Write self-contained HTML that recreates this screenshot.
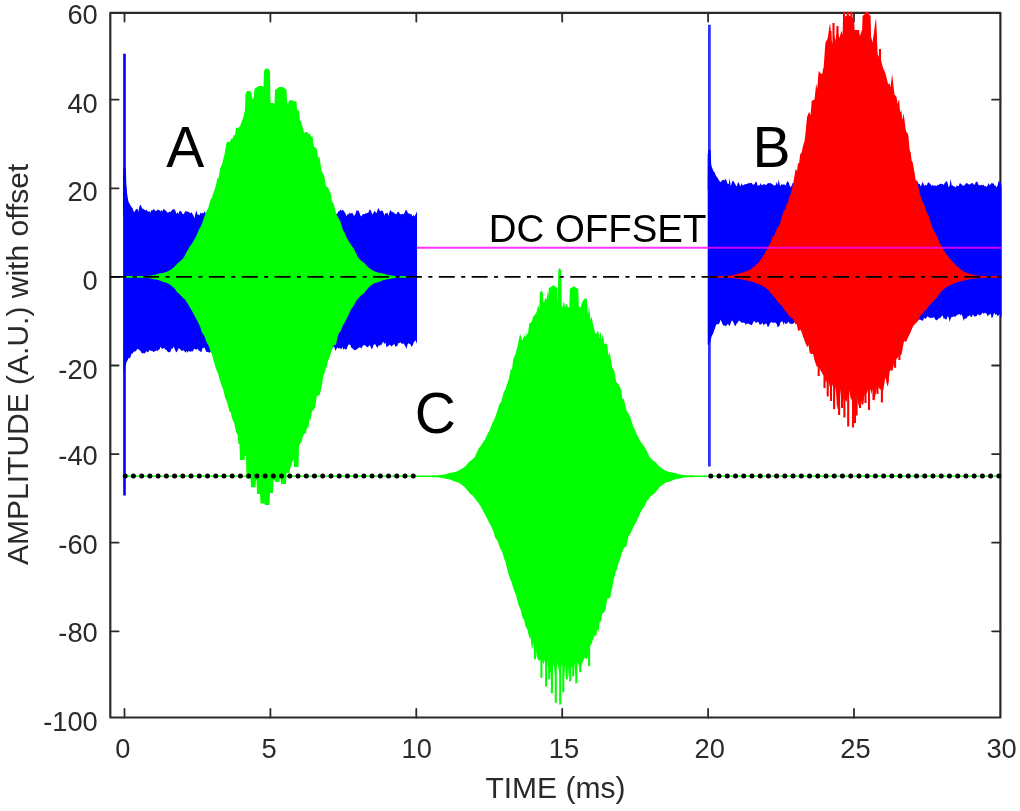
<!DOCTYPE html>
<html lang="en">
<head>
<meta charset="utf-8">
<title>Amplitude vs time</title>
<style>
html,body{margin:0;padding:0;background:#fff;}
body{width:1020px;height:811px;overflow:hidden;font-family:"Liberation Sans",sans-serif;}
svg{display:block;}
</style>
</head>
<body>
<svg width="1020" height="811" viewBox="0 0 1020 811">
<defs><clipPath id="ax"><rect x="109.2" y="11.8" width="892.6" height="706.8"/></clipPath><filter id="soft" x="0" y="0" width="100%" height="100%"><feGaussianBlur stdDeviation="0.45"/></filter></defs>
<rect width="1020" height="811" fill="#fff"/>
<g filter="url(#soft)">
<rect width="1020" height="811" fill="#fff"/>
<g stroke="#2b2b2b" stroke-width="2.2" fill="none" stroke-linejoin="round" stroke-linecap="round">
<rect x="110.3" y="12.9" width="890.1" height="704.6"/>
<path stroke-width="1.8" d="M124.5 717.5V708.9M124.5 12.9V21.5M270.4 717.5V708.9M270.4 12.9V21.5M416.3 717.5V708.9M416.3 12.9V21.5M562.2 717.5V708.9M562.2 12.9V21.5M708.1 717.5V708.9M708.1 12.9V21.5M854 717.5V708.9M854 12.9V21.5M110.3 99.7H118.6M1000.4 99.7H992.1M110.3 188.3H118.6M1000.4 188.3H992.1M110.3 276.9H118.6M1000.4 276.9H992.1M110.3 365.5H118.6M1000.4 365.5H992.1M110.3 454.1H118.6M1000.4 454.1H992.1M110.3 542.7H118.6M1000.4 542.7H992.1M110.3 631.3H118.6M1000.4 631.3H992.1"/>
</g>
<g clip-path="url(#ax)">
<polygon fill="#0000ff" points="123.5,171 124.5,173.8 125.5,181.8 126.5,188.1 127.5,196.6 128.5,201.8 129.5,203.4 130.5,205.6 131.5,206.9 132.5,208.1 133.5,211.2 134.5,212.1 135.5,209.9 136.5,209 137.5,208.8 138.5,211.8 139.5,206 140.5,204.6 141.5,206.9 142.5,208.7 143.5,209.1 144.5,209.7 145.5,210.4 146.5,209.4 147.5,211.3 148.5,211.6 149.5,211.3 150.5,212.7 151.5,210 152.5,210.4 153.5,208.8 154.5,210.1 155.5,211 156.5,211 157.5,209.6 158.5,210 159.5,210.3 160.5,211.5 161.5,210 162.5,211.6 163.5,209 164.5,209.4 165.5,210.6 166.5,211.3 167.5,212.7 168.5,212.4 169.5,211.4 170.5,211.9 171.5,210.9 172.5,209.5 173.5,209.4 174.5,208.9 175.5,211.2 176.5,213.9 177.5,212 178.5,213.9 179.5,211 180.5,211 181.5,211.7 182.5,214 183.5,214.2 184.5,212.7 185.5,210.9 186.5,211.5 187.5,211.6 188.5,212.1 189.5,212.6 190.5,213.4 191.5,212.1 192.5,214.1 193.5,215.5 194.5,218.2 195.5,213.1 196.5,210.5 197.5,214.8 198.5,214.6 199.5,215.4 200.5,212.6 201.5,213.5 202.5,212.8 203.5,213.5 204.5,211.2 205.5,213.1 206.5,213.8 207.5,215.4 208.5,214.2 209.5,213.2 210.5,213.9 211.5,213.6 212.5,213 213.5,212.1 214.5,209.3 215.5,211.1 216.5,212.6 217.5,212.9 218.5,212.6 219.5,209.9 220.5,211.5 221.5,212.3 222.5,213.1 223.5,214.1 224.5,212.6 225.5,213.5 226.5,211.4 227.5,211.9 228.5,211.7 229.5,213.8 230.5,212.1 231.5,214.1 232.5,214.2 233.5,213.2 234.5,213.6 235.5,214.9 236.5,216 237.5,213.5 238.5,210.9 239.5,211.5 240.5,212.5 241.5,213.7 242.5,215.1 243.5,214.2 244.5,212.5 245.5,212.9 246.5,214.3 247.5,213.3 248.5,211.6 249.5,213 250.5,216.5 251.5,214.6 252.5,214.5 253.5,212 254.5,213.3 255.5,211.1 256.5,210.6 257.5,215 258.5,215.3 259.5,214.7 260.5,214.2 261.5,212.9 262.5,213.9 263.5,213.9 264.5,212.3 265.5,212.6 266.5,209.3 267.5,213.2 268.5,214.1 269.5,213.5 270.5,214.5 271.5,214.3 272.5,214.3 273.5,213.3 274.5,212 275.5,211.8 276.5,213.7 277.5,214.8 278.5,214.5 279.5,214.4 280.5,215.9 281.5,211.9 282.5,209.1 283.5,211.1 284.5,212.7 285.5,212.8 286.5,211.8 287.5,210.7 288.5,211.1 289.5,211.5 290.5,213 291.5,213.2 292.5,214.6 293.5,214.6 294.5,215.5 295.5,215.7 296.5,214.5 297.5,213.2 298.5,211.9 299.5,213 300.5,215.5 301.5,212.4 302.5,213.3 303.5,214.3 304.5,212.9 305.5,212.8 306.5,213.2 307.5,211.5 308.5,213 309.5,216.1 310.5,214.7 311.5,209.1 312.5,214.6 313.5,214.9 314.5,213.9 315.5,210.7 316.5,212 317.5,211.3 318.5,210.7 319.5,212.3 320.5,212.9 321.5,213.2 322.5,212.9 323.5,213.7 324.5,212.2 325.5,212.7 326.5,211.5 327.5,212.7 328.5,212.7 329.5,212.7 330.5,214.7 331.5,213.3 332.5,212.8 333.5,212.2 334.5,213.7 335.5,212.7 336.5,214.3 337.5,213.2 338.5,211.2 339.5,211 340.5,209.5 341.5,210.8 342.5,210.1 343.5,210.4 344.5,212.1 345.5,213.6 346.5,216.2 347.5,214.3 348.5,214.3 349.5,212.6 350.5,213.7 351.5,213.1 352.5,213.1 353.5,215.2 354.5,215.8 355.5,213.8 356.5,210.3 357.5,210.8 358.5,210.6 359.5,213 360.5,215.4 361.5,216.6 362.5,214.6 363.5,214 364.5,214.3 365.5,213.2 366.5,213.4 367.5,212.8 368.5,212.6 369.5,209.6 370.5,209.9 371.5,212.3 372.5,214.4 373.5,212.7 374.5,210.8 375.5,212.1 376.5,213.2 377.5,210.2 378.5,207.8 379.5,210.4 380.5,211.2 381.5,210.4 382.5,210.8 383.5,212.7 384.5,215.5 385.5,212.9 386.5,213.4 387.5,212.5 388.5,215.9 389.5,211.7 390.5,210 391.5,211.7 392.5,211.8 393.5,212.4 394.5,213.3 395.5,214.3 396.5,213.9 397.5,212.2 398.5,211.5 399.5,213.5 400.5,214.3 401.5,214.4 402.5,213.7 403.5,214.2 404.5,213.1 405.5,210.3 406.5,210.1 407.5,212.2 408.5,213.6 409.5,213.5 410.5,214.5 411.5,214.1 412.5,216.6 413.5,214.9 414.5,216.5 415.5,214.6 417,211.6 417,343.8 415.5,340.3 414.5,341.6 413.5,342.9 412.5,346 411.5,346.7 410.5,344.4 409.5,343.8 408.5,343.2 407.5,344.4 406.5,348.9 405.5,346.6 404.5,345 403.5,343.3 402.5,343.9 401.5,343.6 400.5,342.2 399.5,343.2 398.5,342.7 397.5,345.6 396.5,345.9 395.5,346.9 394.5,344.3 393.5,344.4 392.5,345.4 391.5,346.5 390.5,345.5 389.5,344.4 388.5,346.1 387.5,346.3 386.5,347.6 385.5,342.5 384.5,344.1 383.5,342.1 382.5,342.5 381.5,345.1 380.5,344.7 379.5,345.7 378.5,345.4 377.5,347.9 376.5,346.7 375.5,344.4 374.5,344.2 373.5,345 372.5,348.2 371.5,349.3 370.5,346.3 369.5,345.1 368.5,346.5 367.5,347.2 366.5,346.7 365.5,345.8 364.5,345 363.5,345.2 362.5,346.3 361.5,348.6 360.5,347.5 359.5,347.5 358.5,347.8 357.5,348.8 356.5,349.4 355.5,350 354.5,350.3 353.5,349.3 352.5,348.4 351.5,348.1 350.5,345.2 349.5,344.6 348.5,344.5 347.5,346.8 346.5,349.4 345.5,349.5 344.5,348.5 343.5,349.8 342.5,347 341.5,349.3 340.5,348.6 339.5,348.2 338.5,348.2 337.5,347.6 336.5,348.7 335.5,350.9 334.5,347.5 333.5,346.5 332.5,348.4 331.5,348.3 330.5,346.3 329.5,347.3 328.5,347.3 327.5,349.3 326.5,350.8 325.5,349.9 324.5,350.7 323.5,349.5 322.5,347.6 321.5,346.5 320.5,347.8 319.5,348.7 318.5,350 317.5,350.2 316.5,350.5 315.5,350.6 314.5,351.5 313.5,350.6 312.5,350.9 311.5,351.5 310.5,349.6 309.5,351 308.5,349.1 307.5,347.6 306.5,346.8 305.5,347.7 304.5,348 303.5,350 302.5,348.3 301.5,350.2 300.5,349.9 299.5,351.3 298.5,351.7 297.5,350.9 296.5,348.7 295.5,348.7 294.5,350.8 293.5,352.4 292.5,352.1 291.5,350.5 290.5,348.7 289.5,346.7 288.5,349.6 287.5,350 286.5,349.5 285.5,350.1 284.5,350.4 283.5,350.2 282.5,349.7 281.5,348.6 280.5,348.3 279.5,349.8 278.5,348.1 277.5,346.3 276.5,345.6 275.5,346.4 274.5,349.8 273.5,349.9 272.5,350.4 271.5,351.1 270.5,349 269.5,349.3 268.5,347.4 267.5,351.2 266.5,350.6 265.5,351.1 264.5,350.4 263.5,351.6 262.5,351.5 261.5,349.9 260.5,349.2 259.5,350.8 258.5,351.4 257.5,352 256.5,349.9 255.5,350.6 254.5,349.2 253.5,348 252.5,350.4 251.5,351 250.5,349.2 249.5,349.5 248.5,350.4 247.5,350 246.5,352.3 245.5,351.4 244.5,349.6 243.5,349.4 242.5,350.4 241.5,351.4 240.5,350.7 239.5,349.9 238.5,350.6 237.5,352.4 236.5,351.3 235.5,350.8 234.5,351.1 233.5,349 232.5,350.3 231.5,352.4 230.5,349.4 229.5,351 228.5,350.4 227.5,349.1 226.5,350.2 225.5,350.4 224.5,350.2 223.5,349.9 222.5,346.8 221.5,346.7 220.5,348.1 219.5,349.4 218.5,350.2 217.5,350.1 216.5,348.3 215.5,347.9 214.5,348.9 213.5,346.5 212.5,349.1 211.5,351.8 210.5,351.8 209.5,352.7 208.5,352.2 207.5,351.9 206.5,352 205.5,350 204.5,347.3 203.5,348.3 202.5,347.9 201.5,352 200.5,351.7 199.5,350.7 198.5,350.5 197.5,348.8 196.5,349.7 195.5,349.3 194.5,348.7 193.5,349.7 192.5,351.8 191.5,350.9 190.5,351.9 189.5,351.3 188.5,351.1 187.5,352.8 186.5,350.7 185.5,352.8 184.5,351.3 183.5,350.2 182.5,350.7 181.5,350.7 180.5,349.4 179.5,348.7 178.5,348.2 177.5,350.7 176.5,352.4 175.5,351.1 174.5,348.5 173.5,346.5 172.5,349.1 171.5,348.4 170.5,351.8 169.5,352.3 168.5,352.3 167.5,351.6 166.5,350.1 165.5,349.8 164.5,348.3 163.5,348 162.5,349.3 161.5,348 160.5,346.8 159.5,349.4 158.5,349.8 157.5,351.2 156.5,350.3 155.5,351 154.5,351.4 153.5,352.2 152.5,350.9 151.5,351.1 150.5,350.4 149.5,349.9 148.5,351.8 147.5,352.6 146.5,351.1 145.5,352.4 144.5,353.4 143.5,353 142.5,353.5 141.5,352.7 140.5,351.1 139.5,349.9 138.5,349.2 137.5,348.7 136.5,350.2 135.5,351.4 134.5,351.3 133.5,352.2 132.5,353.5 131.5,353.8 130.5,357.1 129.5,358.4 128.5,358.1 127.5,360.4 126.5,362.3 125.5,366.4 124.5,374.2 123.5,372.8"/>
<polygon fill="#0000ff" points="707.7,153.3 708.7,156.2 709.7,160.6 710.7,162.8 711.7,167.1 712.7,169.2 713.7,171.6 714.7,172.5 715.7,175.3 716.7,176.7 717.7,178.1 718.7,179.7 719.7,181.6 720.7,182.3 721.7,180.4 722.7,180.2 723.7,179.8 724.7,180.3 725.7,178.8 726.7,181 727.7,183.9 728.7,183.9 729.7,178.2 730.7,186.4 731.7,182.9 732.7,180.7 733.7,181.2 734.7,183.2 735.7,185 736.7,186.5 737.7,183.6 738.7,181.9 739.7,185 740.7,186.2 741.7,182.9 742.7,185.4 743.7,184.9 744.7,184.3 745.7,184.2 746.7,183.9 747.7,183.4 748.7,183.3 749.7,182.7 750.7,183.4 751.7,182.6 752.7,184.6 753.7,184.8 754.7,183.7 755.7,181.4 756.7,182.3 757.7,185.9 758.7,185.2 759.7,185.2 760.7,183.1 761.7,185.4 762.7,184.7 763.7,183.9 764.7,184.5 765.7,185 766.7,184.4 767.7,183.3 768.7,182.9 769.7,183.4 770.7,182.8 771.7,184 772.7,184.2 773.7,185.4 774.7,185.4 775.7,184.9 776.7,182.1 777.7,185 778.7,179.5 779.7,184.7 780.7,186.1 781.7,183.7 782.7,185 783.7,184.3 784.7,184.8 785.7,185.5 786.7,182.6 787.7,181.2 788.7,182.6 789.7,185.6 790.7,187.3 791.7,185.6 792.7,182.7 793.7,184 794.7,185.8 795.7,185.1 796.7,183.7 797.7,182.6 798.7,183.3 799.7,184.8 800.7,187.2 801.7,186.6 802.7,184.7 803.7,183.6 804.7,184.1 805.7,183.8 806.7,183.4 807.7,183.8 808.7,186 809.7,184.4 810.7,182.8 811.7,183.8 812.7,185.4 813.7,184.2 814.7,183.6 815.7,183.7 816.7,184.5 817.7,183.5 818.7,181.4 819.7,181.6 820.7,183 821.7,180.8 822.7,178.7 823.7,180.6 824.7,184.1 825.7,181.6 826.7,182.3 827.7,181.8 828.7,183.4 829.7,182.2 830.7,184.2 831.7,184.5 832.7,184.2 833.7,182.6 834.7,181.7 835.7,180.6 836.7,185.4 837.7,183 838.7,183.5 839.7,183.6 840.7,183.8 841.7,185.2 842.7,182.4 843.7,183.9 844.7,184.7 845.7,184.2 846.7,184.9 847.7,183.1 848.7,184 849.7,184.3 850.7,184.4 851.7,184.4 852.7,184.7 853.7,184.3 854.7,183.6 855.7,183.3 856.7,186.9 857.7,185 858.7,186 859.7,186.5 860.7,186.6 861.7,183.8 862.7,181.6 863.7,183.5 864.7,183.7 865.7,183.4 866.7,185.7 867.7,186.6 868.7,186.7 869.7,185.6 870.7,183.7 871.7,185 872.7,186.8 873.7,185.5 874.7,188.2 875.7,185.6 876.7,181.3 877.7,183.6 878.7,185.5 879.7,184.9 880.7,183.1 881.7,183.8 882.7,183.9 883.7,185.3 884.7,184.8 885.7,185 886.7,184.6 887.7,183.5 888.7,181.7 889.7,183.5 890.7,184.1 891.7,186.5 892.7,186.2 893.7,185.1 894.7,187.1 895.7,184.8 896.7,183.4 897.7,183.4 898.7,184 899.7,185.2 900.7,183.8 901.7,184.5 902.7,186.1 903.7,185.2 904.7,185.9 905.7,184.2 906.7,185.2 907.7,185.2 908.7,185.6 909.7,185.2 910.7,184.3 911.7,184.7 912.7,184.7 913.7,184.5 914.7,184.4 915.7,182.3 916.7,180.6 917.7,182 918.7,184 919.7,184.1 920.7,186.6 921.7,184.4 922.7,181.5 923.7,184.6 924.7,185.9 925.7,184.6 926.7,185.7 927.7,182.9 928.7,182.3 929.7,183.5 930.7,184.4 931.7,186.1 932.7,184.8 933.7,186.1 934.7,185.2 935.7,185.8 936.7,186 937.7,184.7 938.7,184.9 939.7,184 940.7,183.5 941.7,184.3 942.7,183.9 943.7,184.9 944.7,183 945.7,182.1 946.7,181 947.7,183.5 948.7,187.6 949.7,185.3 950.7,178.7 951.7,185.4 952.7,185.3 953.7,186.5 954.7,186.4 955.7,187.5 956.7,185.3 957.7,186.1 958.7,186.2 959.7,183.2 960.7,183.4 961.7,184.6 962.7,185.5 963.7,185.7 964.7,185.1 965.7,183.8 966.7,183.1 967.7,183.4 968.7,184.4 969.7,184.5 970.7,183.8 971.7,183.1 972.7,183.2 973.7,184.6 974.7,184.7 975.7,182.2 976.7,181.5 977.7,182.6 978.7,185.2 979.7,184.9 980.7,185.5 981.7,184.4 982.7,185.4 983.7,184.5 984.7,186.6 985.7,186.1 986.7,186.9 987.7,185 988.7,183 989.7,185.5 990.7,184.1 991.7,183 992.7,183.4 993.7,183.5 994.7,185.7 995.7,185.7 996.7,187.6 997.7,185 998.7,180.7 999.7,182.3 1000.7,182.7 1001.7,186.5 1001.7,317.6 1000.7,317.4 999.7,314 998.7,315.2 997.7,316.5 996.7,313.7 995.7,315.4 994.7,313 993.7,313.7 992.7,317.2 991.7,318.3 990.7,313.8 989.7,314.6 988.7,314.7 987.7,316.4 986.7,313.7 985.7,313.3 984.7,312.8 983.7,314 982.7,312.6 981.7,313.7 980.7,315 979.7,315.6 978.7,314.7 977.7,313.9 976.7,316.1 975.7,316.2 974.7,316.7 973.7,315.4 972.7,314.6 971.7,317.4 970.7,316.5 969.7,315.3 968.7,316 967.7,316.5 966.7,317.9 965.7,318.8 964.7,318.5 963.7,321 962.7,317 961.7,314.3 960.7,315.4 959.7,313.9 958.7,314.4 957.7,314.5 956.7,315.5 955.7,316.6 954.7,316.8 953.7,316.2 952.7,317.1 951.7,316.8 950.7,318.5 949.7,321.9 948.7,317.6 947.7,316 946.7,319.3 945.7,319.5 944.7,318.2 943.7,319 942.7,315.6 941.7,315.9 940.7,317.5 939.7,318.3 938.7,318.3 937.7,319.4 936.7,320.2 935.7,320.3 934.7,318 933.7,317 932.7,318.3 931.7,317.6 930.7,318.3 929.7,317.4 928.7,317.6 927.7,316 926.7,317.6 925.7,319.1 924.7,317.8 923.7,318.7 922.7,321 921.7,320.3 920.7,320 919.7,319.2 918.7,320.6 917.7,319.5 916.7,318.4 915.7,318.3 914.7,321.2 913.7,322.2 912.7,319.3 911.7,321.3 910.7,317.9 909.7,318.8 908.7,319.7 907.7,320.4 906.7,319.6 905.7,319.6 904.7,319.3 903.7,318 902.7,319.2 901.7,320.9 900.7,320.7 899.7,321.8 898.7,319.4 897.7,319.7 896.7,325.3 895.7,323 894.7,320.9 893.7,318.8 892.7,318.3 891.7,319.9 890.7,320.7 889.7,321.9 888.7,320.4 887.7,320.8 886.7,320.2 885.7,318.1 884.7,319.2 883.7,319.5 882.7,320 881.7,321.2 880.7,322.4 879.7,320.5 878.7,321 877.7,320.8 876.7,321.2 875.7,322.2 874.7,322.3 873.7,324.9 872.7,322.7 871.7,324.8 870.7,323.3 869.7,322.4 868.7,320.6 867.7,320.9 866.7,322.1 865.7,322.5 864.7,322.4 863.7,321.8 862.7,323.4 861.7,322.5 860.7,320.7 859.7,322.7 858.7,323.1 857.7,320.4 856.7,321.9 855.7,320.6 854.7,319 853.7,319.5 852.7,320.7 851.7,320.3 850.7,321 849.7,322.2 848.7,321.3 847.7,322.9 846.7,321.4 845.7,324.9 844.7,321.4 843.7,321.6 842.7,320.8 841.7,321 840.7,321.1 839.7,322.1 838.7,321 837.7,321.2 836.7,319.3 835.7,319.8 834.7,320.8 833.7,319.5 832.7,320.9 831.7,319.7 830.7,319.1 829.7,319.5 828.7,323.9 827.7,324.2 826.7,322.6 825.7,321 824.7,321.8 823.7,321.4 822.7,321.6 821.7,324.2 820.7,323.5 819.7,322.5 818.7,321.4 817.7,321.7 816.7,323.5 815.7,322.5 814.7,320.7 813.7,322.8 812.7,320.7 811.7,320.4 810.7,321.4 809.7,322.5 808.7,321.4 807.7,321.1 806.7,322.5 805.7,325.1 804.7,325 803.7,322.9 802.7,321.2 801.7,321.6 800.7,321.9 799.7,321.7 798.7,321.3 797.7,321.9 796.7,321.5 795.7,322.8 794.7,322.2 793.7,323.2 792.7,323.8 791.7,324.2 790.7,323.4 789.7,323.7 788.7,321.6 787.7,322.7 786.7,323.5 785.7,324.4 784.7,321.9 783.7,325 782.7,321.6 781.7,321.8 780.7,321.8 779.7,325.3 778.7,326.5 777.7,327.4 776.7,323.9 775.7,322.7 774.7,322.8 773.7,322.6 772.7,323.1 771.7,321.9 770.7,322.6 769.7,324.1 768.7,326.6 767.7,326.9 766.7,324.1 765.7,323.4 764.7,324.1 763.7,325.6 762.7,323 761.7,323.8 760.7,324.6 759.7,324.8 758.7,322.5 757.7,321.7 756.7,322.4 755.7,323.1 754.7,321.3 753.7,321.2 752.7,323.4 751.7,325.3 750.7,324.7 749.7,324.4 748.7,323.5 747.7,323.7 746.7,323.5 745.7,324.9 744.7,322.9 743.7,322.5 742.7,323.1 741.7,322.6 740.7,322 739.7,320.7 738.7,320.7 737.7,322.8 736.7,323.4 735.7,325.7 734.7,325.7 733.7,323.1 732.7,320.9 731.7,320.4 730.7,323.3 729.7,326 728.7,324.9 727.7,323.7 726.7,325.3 725.7,326.6 724.7,325.3 723.7,325.7 722.7,324.6 721.7,322.2 720.7,319.5 719.7,322.5 718.7,324.2 717.7,324.2 716.7,324.1 715.7,326.1 714.7,329 713.7,331.9 712.7,334.5 711.7,336.1 710.7,340.4 709.7,342.8 708.7,344.8 707.7,344.7"/>
<path stroke="#0000ff" stroke-width="2.6" fill="none" d="M124.5 53.7V495.5"/>
<path stroke="#0000ff" stroke-opacity="0.8" stroke-width="2.8" fill="none" d="M709.4 24.8V466.5"/>
<polygon fill="#0000ff" points="123.3,168 125.8,168 127.4,215 123.2,215"/>
<polygon fill="#0000ff" points="708,150 710.6,150 712.3,190 707.7,190"/>
<path stroke="#22ff22" stroke-width="1.4" fill="none" d="M124.5 476.2H416.3M708.1 476.2H1000.4"/>
<polygon fill="#00ff00" points="124.5,276.1 125,276.1 125.5,276.1 126,276.1 126.5,276.1 127,276.1 127.5,276.1 128,276.1 128.5,276.1 129,276.1 129.5,276.1 130,276.1 130.5,276.1 131,276.1 131.5,276.1 132,276.1 132.5,276.1 133,276.1 133.5,276.1 134,276.1 134.5,276.1 135,276.1 135.5,276.1 136,276.1 136.5,276.1 137,276.1 137.5,276 138,276 138.5,276 139,276 139.5,276 140,276 140.5,276 141,276 141.5,276 142,276 142.5,276 143,276 143.5,276 144,275.9 144.5,275.9 145,275.9 145.5,275.9 146,275.9 146.5,275.9 147,275.9 147.5,275.9 148,275.8 148.5,275.8 149,275.7 149.5,275.7 150,275.6 150.5,275.6 151,275.5 151.5,275.4 152,275.4 152.5,275.3 153,275.2 153.5,275.1 154,275 154.5,274.9 155,274.8 155.5,274.7 156,274.5 156.5,274.3 157,274.1 157.5,274 158,273.8 158.5,273.7 159,273.6 159.5,273.5 160,273.4 160.5,273.3 161,273.2 161.5,273.1 162,273.1 162.5,273 163,272.9 163.5,272.7 164,272.6 164.5,272.5 165,272.3 165.5,272.2 166,272 166.5,271.8 167,271.6 167.5,271.4 168,271.2 168.5,270.9 169,270.7 169.5,270.4 170,270.1 170.5,269.8 171,269.5 171.5,269.2 172,268.8 172.5,268.5 173,268.1 173.5,267.7 174,267.2 174.5,266.8 175,266.2 175.5,265.7 176,265 176.5,264.5 177,263.9 177.5,263.5 178,263 178.5,262.6 179,262.2 179.5,261.8 180,261.4 180.5,261 181,260.6 181.5,260.1 182,259.6 182.5,259 183,258.4 183.5,257.8 184,257.1 184.5,256.3 185,255.3 185.5,254.2 186,253.2 186.5,252.2 187,251.3 187.5,250.6 188,249.7 188.5,248.8 189,247.9 189.5,246.9 190,246.1 190.5,245.5 191,244.9 191.5,244.3 192,243.6 192.5,242.7 193,241.8 193.5,240.9 194,239.9 194.5,238.9 195,238.2 195.5,237.4 196,236.7 196.5,235.5 197,234.3 197.5,233.2 198,232 198.5,230.8 199,229.6 199.5,228.6 200,227.8 200.5,227 201,225.9 201.5,224.4 202,223.5 202.5,222.4 203,220.9 203.5,219.3 204,217.8 204.5,216.3 205,214.9 205.5,213.4 206,211.8 206.5,211 207,210.3 207.5,209.6 208,208.9 208.5,207 209,205.3 209.5,203.6 210,201.8 210.5,200.1 211,199 211.5,198.3 212,197.6 212.5,196.2 213,194.1 213.5,192.7 214,191.3 214.5,189.9 215,188.6 215.5,186.8 216,184.7 216.5,182.5 217,180.3 217.5,178.1 218,178.1 218.5,178.1 219,176.2 219.5,172.3 220,169 220.5,167.8 221,166.6 221.5,165.4 222,164.2 222.5,162.5 223,160.5 223.5,158.5 224,156.4 224.5,154.4 225,151.5 225.5,148.7 226,145.8 226.5,143 227,141.8 227.5,141.8 228,141.8 228.5,141.8 229,141.8 229.5,141.8 230,141.8 230.5,140.6 231,139.3 231.5,138.6 232,138.6 232.5,138.6 233,137.6 233.5,135.2 234,135.2 234.5,135.2 235,135 235.5,131.2 236,127.7 236.5,127.7 237,127.7 237.5,127.7 238,127.7 238.5,127.7 239,127.4 239.5,126.7 240,125.8 240.5,124.9 241,123.6 241.5,122 242,120.6 242.5,119.5 243,118.3 243.5,116.2 244,114.2 244.5,112.2 245,110.2 245.5,93.7 246,92.8 246.5,92 247,91.1 247.5,91.1 248,91.1 248.5,91.1 249,91.1 249.5,91.1 250,91.1 250.5,91.6 251,92.5 251.5,93.4 252,98.4 252.5,98.4 253,98.4 253.5,98.4 254,95.2 254.5,88.8 255,88.5 255.5,88.2 256,87.8 256.5,87.5 257,87.2 257.5,86.8 258,86.5 258.5,86.2 259,86 259.5,86 260,86 260.5,86 261,86 261.5,86 262,86 262.5,86.3 263,86.6 263.5,87 264,71 264.5,70.1 265,69.2 265.5,68.7 266,68.7 266.5,68.7 267,68.7 267.5,68.7 268,68.7 268.5,68.7 269,69.6 269.5,70.4 270,71.3 270.5,102.9 271,102.9 271.5,102.9 272,102.9 272.5,102.9 273,102.9 273.5,102.9 274,103.8 274.5,103.8 275,89.9 275.5,89.6 276,89.2 276.5,88.9 277,88.6 277.5,88.2 278,87.9 278.5,87.6 279,87.2 279.5,86.9 280,86.9 280.5,86.9 281,86.9 281.5,86.9 282,86.9 282.5,86.9 283,87.2 283.5,87.6 284,87.9 284.5,88.2 285,88.6 285.5,88.9 286,89.2 286.5,89.6 287,101.9 287.5,103.3 288,105 288.5,102.1 289,101.2 289.5,100.3 290,100.3 290.5,100.3 291,100.3 291.5,100.3 292,100.3 292.5,100.3 293,100.5 293.5,101.2 294,101.2 294.5,101.2 295,101.2 295.5,101.2 296,101.3 296.5,101.7 297,109 297.5,110.4 298,110.4 298.5,110.4 299,110.4 299.5,116.1 300,121 300.5,121 301,121 301.5,123 302,125.1 302.5,126.9 303,128.7 303.5,130.4 304,132.2 304.5,132.9 305,132.3 305.5,132.3 306,132.3 306.5,132.3 307,132.3 307.5,132.3 308,132.3 308.5,134.1 309,134.1 309.5,134.1 310,134.1 310.5,134.7 311,136.8 311.5,136.8 312,136.8 312.5,136.8 313,139.7 313.5,143.4 314,146.9 314.5,146.9 315,146.9 315.5,147.5 316,148.1 316.5,148.8 317,149.7 317.5,153.5 318,157.2 318.5,157.2 319,157.2 319.5,157.2 320,160.6 320.5,163.8 321,167 321.5,170.1 322,172.1 322.5,172.8 323,173.6 323.5,174.3 324,175.1 324.5,177.7 325,180.5 325.5,183.3 326,186 326.5,186.3 327,186.8 327.5,187.3 328,187.9 328.5,188.5 329,189.5 329.5,190.8 330,192 330.5,193.2 331,194.6 331.5,198.4 332,202.2 332.5,202.3 333,202.3 333.5,202.9 334,205 334.5,207 335,209 335.5,210.9 336,212.8 336.5,214.7 337,215.5 337.5,216.2 338,217 338.5,217.9 339,218.8 339.5,219.7 340,220.7 340.5,222.1 341,223.7 341.5,225.3 342,226.9 342.5,228.4 343,229.9 343.5,231 344,231.8 344.5,232.6 345,233.6 345.5,234.9 346,236.2 346.5,237.3 347,238 347.5,239 348,240 348.5,240.9 349,241.8 349.5,242.6 350,243.3 350.5,244.1 351,244.8 351.5,245.5 352,246.2 352.5,246.9 353,247.6 353.5,248.3 354,249 354.5,250 355,251.1 355.5,252.2 356,253.1 356.5,254.2 357,255.3 357.5,256.3 358,257.2 358.5,257.9 359,258.5 359.5,259.1 360,259.6 360.5,260.1 361,260.5 361.5,260.9 362,261.3 362.5,261.7 363,262.1 363.5,262.5 364,262.9 364.5,263.3 365,263.8 365.5,264.3 366,264.9 366.5,265.5 367,266.1 367.5,266.6 368,267.1 368.5,267.6 369,267.9 369.5,268.3 370,268.6 370.5,269 371,269.4 371.5,269.7 372,270.1 372.5,270.3 373,270.6 373.5,270.9 374,271.1 374.5,271.3 375,271.5 375.5,271.8 376,272 376.5,272.1 377,272.2 377.5,272.4 378,272.5 378.5,272.7 379,272.8 379.5,272.9 380,273 380.5,273.1 381,273.2 381.5,273.2 382,273.3 382.5,273.5 383,273.6 383.5,273.7 384,273.8 384.5,273.9 385,274.1 385.5,274.3 386,274.4 386.5,274.6 387,274.8 387.5,274.9 388,275 388.5,275.1 389,275.2 389.5,275.2 390,275.3 390.5,275.4 391,275.5 391.5,275.5 392,275.6 392.5,275.7 393,275.7 393.5,275.8 394,275.8 394.5,275.8 395,275.9 395.5,275.9 396,275.9 396.5,275.9 397,275.9 397.5,275.9 398,275.9 398.5,276 399,276 399.5,276 400,276 400.5,276 401,276 401.5,276 402,276 402.5,276 403,276 403.5,276 404,276 404.5,276 405,276 405.5,276.1 406,276.1 406.5,276.1 407,276.1 407.5,276.1 408,276.1 408.5,276.1 409,276.1 409.5,276.1 410,276.1 410.5,276.1 411,276.1 411.5,276.1 412,276.1 412.5,276.1 413,276.1 413.5,276.1 414,276.1 414.5,276.1 415,276.1 415.5,276.1 416,276.1 416.5,276.1 416.5,277.7 416,277.7 415.5,277.7 415,277.7 414.5,277.7 414,277.7 413.5,277.7 413,277.7 412.5,277.7 412,277.7 411.5,277.7 411,277.7 410.5,277.7 410,277.7 409.5,277.7 409,277.7 408.5,277.7 408,277.7 407.5,277.7 407,277.7 406.5,277.7 406,277.7 405.5,277.7 405,277.7 404.5,277.8 404,277.8 403.5,277.8 403,277.8 402.5,277.8 402,277.8 401.5,277.8 401,277.8 400.5,277.8 400,277.8 399.5,277.8 399,277.8 398.5,277.8 398,277.9 397.5,277.9 397,277.9 396.5,277.9 396,277.9 395.5,277.9 395,277.9 394.5,278 394,278 393.5,278.1 393,278.2 392.5,278.3 392,278.4 391.5,278.5 391,278.6 390.5,278.7 390,278.8 389.5,278.9 389,279 388.5,279.1 388,279.2 387.5,279.3 387,279.4 386.5,279.5 386,279.6 385.5,279.7 385,279.8 384.5,279.9 384,280 383.5,280.1 383,280.3 382.5,280.5 382,280.7 381.5,280.9 381,281.1 380.5,281.3 380,281.5 379.5,281.7 379,281.9 378.5,282.1 378,282.3 377.5,282.4 377,282.5 376.5,282.7 376,282.8 375.5,283 375,283.1 374.5,283.3 374,283.6 373.5,283.8 373,284.1 372.5,284.4 372,284.8 371.5,285.1 371,285.5 370.5,285.9 370,286.3 369.5,286.8 369,287.2 368.5,287.7 368,288.2 367.5,288.7 367,289.3 366.5,289.9 366,290.5 365.5,291.2 365,291.9 364.5,292.5 364,293.2 363.5,293.8 363,294.1 362.5,294.5 362,294.8 361.5,295.1 361,295.5 360.5,295.9 360,296.5 359.5,297.1 359,297.7 358.5,298.2 358,298.7 357.5,299.2 357,299.8 356.5,300.5 356,301.4 355.5,302.3 355,303.3 354.5,304.3 354,305.1 353.5,305.9 353,306.6 352.5,307.4 352,308.1 351.5,308.7 351,309.3 350.5,310.4 350,311.6 349.5,312.8 349,313.8 348.5,314.9 348,316 347.5,317.1 347,318.1 346.5,319.1 346,320.1 345.5,321.1 345,322.1 344.5,322.9 344,323.8 343.5,324.6 343,325.5 342.5,326.5 342,327.7 341.5,328.9 341,330.1 340.5,331.3 340,332 339.5,332.6 339,333.3 338.5,334.2 338,335.4 337.5,337.6 337,339.8 336.5,342.1 336,344.5 335.5,344.8 335,345 334.5,345.1 334,345.2 333.5,346.1 333,347.2 332.5,348.5 332,349.9 331.5,351.3 331,352.8 330.5,354.3 330,355.9 329.5,357.5 329,359 328.5,359.6 328,360.8 327.5,363.1 327,365.5 326.5,367 326,367.8 325.5,368.5 325,370.9 324.5,373.5 324,374.1 323.5,375.4 323,378.4 322.5,381.4 322,384.3 321.5,386.7 321,389.2 320.5,391.6 320,394.1 319.5,395 319,395.3 318.5,395.5 318,395.6 317.5,395.7 317,395.7 316.5,398.8 316,402 315.5,405.4 315,407.4 314.5,408.3 314,409.1 313.5,409.9 313,410.7 312.5,410.7 312,410.8 311.5,414.2 311,417.5 310.5,419.5 310,419.5 309.5,419.5 309,422.9 308.5,427.3 308,427.8 307.5,427.8 307,427.8 306.5,430 306,433.5 305.5,433.6 305,433.6 304.5,433.6 304,434.2 303.5,435.5 303,436.2 302.5,438.1 302,440 301.5,441.8 301,442.6 300.5,443.3 300,444 299.5,444.7 299,446 298.5,466.9 298,466.9 297.5,466.9 297,466.9 296.5,466.9 296,466.9 295.5,466.9 295,466.9 294.5,466.9 294,466.9 293.5,459.3 293,460.5 292.5,461.6 292,462.9 291.5,464.5 291,466.1 290.5,467.7 290,469.3 289.5,472.9 289,472.9 288.5,472.9 288,472.9 287.5,472.9 287,472.9 286.5,472.9 286,483.9 285.5,483.9 285,483.9 284.5,483.9 284,483.9 283.5,483.9 283,483.9 282.5,483.9 282,483.9 281.5,483.9 281,483.9 280.5,476.9 280,476.9 279.5,481.9 279,481.9 278.5,481.9 278,481.9 277.5,481.9 277,481.9 276.5,481.9 276,481.9 275.5,481.9 275,481.9 274.5,479.9 274,479.9 273.5,479.9 273,492.9 272.5,492.9 272,492.9 271.5,492.9 271,492.9 270.5,492.9 270,492.9 269.5,505.1 269,505.1 268.5,505.1 268,505.1 267.5,505.1 267,505.1 266.5,505.1 266,505.1 265.5,505.1 265,505.1 264.5,503.4 264,503.4 263.5,503.4 263,503.4 262.5,503.4 262,503.4 261.5,503.4 261,503.4 260.5,503.4 260,493.9 259.5,493.9 259,493.9 258.5,493.9 258,493.9 257.5,493.9 257,493.9 256.5,479.9 256,479.9 255.5,487.3 255,487.3 254.5,487.3 254,487.3 253.5,487.3 253,487.3 252.5,487.3 252,487.3 251.5,487.3 251,487.3 250.5,478.4 250,478.4 249.5,478.4 249,478.4 248.5,478.4 248,478.4 247.5,478.4 247,478.4 246.5,478.4 246,456.3 245.5,456 245,454.9 244.5,459.9 244,459.9 243.5,459.9 243,459.9 242.5,459.9 242,459.9 241.5,459.9 241,459.9 240.5,459.9 240,459.9 239.5,444.1 239,444.1 238.5,444.1 238,439.5 237.5,435 237,433.3 236.5,433.3 236,432 235.5,429.6 235,427.1 234.5,424.7 234,422.4 233.5,421.4 233,420.4 232.5,419.3 232,418.3 231.5,416.3 231,413.6 230.5,412.1 230,411.8 229.5,411.5 229,409.6 228.5,407.6 228,405.7 227.5,403.7 227,402 226.5,400.9 226,399.7 225.5,398.5 225,397.2 224.5,395.3 224,393.1 223.5,391 223,388.9 222.5,387.8 222,386.4 221.5,385.1 221,383.7 220.5,382.2 220,380.6 219.5,378.9 219,377.2 218.5,375.5 218,373.8 217.5,372.5 217,371.2 216.5,370 216,368.7 215.5,367.2 215,365.4 214.5,363.7 214,362.1 213.5,360.5 213,358.5 212.5,356.4 212,354.5 211.5,353.8 211,353 210.5,351.3 210,349.7 209.5,348.1 209,346.8 208.5,345.5 208,344.5 207.5,343.7 207,342.9 206.5,342.1 206,340.6 205.5,339.2 205,337.7 204.5,336.4 204,335.2 203.5,334.6 203,334 202.5,333.3 202,332.6 201.5,331.2 201,329.5 200.5,327.9 200,326.3 199.5,325.3 199,324.3 198.5,323.3 198,322.3 197.5,321.3 197,320.3 196.5,319.4 196,318.5 195.5,317.6 195,316.7 194.5,315.8 194,314.8 193.5,313.9 193,312.9 192.5,312 192,311.1 191.5,310.2 191,309.3 190.5,308.4 190,307.5 189.5,306.7 189,305.8 188.5,305 188,304.1 187.5,303.2 187,302.5 186.5,301.8 186,301.2 185.5,300.3 185,299.5 184.5,299.1 184,298.8 183.5,298.4 183,297.9 182.5,297.3 182,296.8 181.5,296.3 181,295.8 180.5,295.3 180,294.8 179.5,294.3 179,293.8 178.5,293.3 178,292.9 177.5,292.4 177,291.9 176.5,291.3 176,290.5 175.5,289.7 175,289 174.5,288.5 174,288 173.5,287.6 173,287.1 172.5,286.7 172,286.2 171.5,285.8 171,285.4 170.5,285 170,284.6 169.5,284.3 169,284 168.5,283.8 168,283.5 167.5,283.3 167,283.1 166.5,282.9 166,282.8 165.5,282.6 165,282.5 164.5,282.3 164,282.1 163.5,282 163,281.8 162.5,281.6 162,281.4 161.5,281.2 161,281 160.5,280.8 160,280.6 159.5,280.4 159,280.3 158.5,280.1 158,279.9 157.5,279.8 157,279.7 156.5,279.6 156,279.5 155.5,279.5 155,279.4 154.5,279.3 154,279.2 153.5,279.1 153,279 152.5,278.9 152,278.8 151.5,278.7 151,278.5 150.5,278.4 150,278.3 149.5,278.2 149,278.2 148.5,278.1 148,278 147.5,278 147,277.9 146.5,277.9 146,277.9 145.5,277.9 145,277.9 144.5,277.9 144,277.9 143.5,277.8 143,277.8 142.5,277.8 142,277.8 141.5,277.8 141,277.8 140.5,277.8 140,277.8 139.5,277.8 139,277.8 138.5,277.8 138,277.8 137.5,277.8 137,277.7 136.5,277.7 136,277.7 135.5,277.7 135,277.7 134.5,277.7 134,277.7 133.5,277.7 133,277.7 132.5,277.7 132,277.7 131.5,277.7 131,277.7 130.5,277.7 130,277.7 129.5,277.7 129,277.7 128.5,277.7 128,277.7 127.5,277.7 127,277.7 126.5,277.7 126,277.7 125.5,277.7 125,277.7 124.5,277.7"/>
<polygon fill="#00ff00" points="416.3,475.5 416.8,475.5 417.3,475.5 417.8,475.5 418.3,475.5 418.8,475.5 419.3,475.5 419.8,475.5 420.3,475.5 420.8,475.5 421.3,475.5 421.8,475.5 422.3,475.5 422.8,475.5 423.3,475.4 423.8,475.4 424.3,475.4 424.8,475.4 425.3,475.4 425.8,475.4 426.3,475.4 426.8,475.4 427.3,475.4 427.8,475.4 428.3,475.4 428.8,475.4 429.3,475.4 429.8,475.4 430.3,475.4 430.8,475.4 431.3,475.4 431.8,475.3 432.3,475.3 432.8,475.3 433.3,475.3 433.8,475.3 434.3,475.3 434.8,475.3 435.3,475.3 435.8,475.3 436.3,475.3 436.8,475.3 437.3,475.2 437.8,475.2 438.3,475.2 438.8,475.2 439.3,475.1 439.8,475.1 440.3,475 440.8,475 441.3,474.9 441.8,474.9 442.3,474.8 442.8,474.7 443.3,474.6 443.8,474.5 444.3,474.5 444.8,474.4 445.3,474.3 445.8,474.2 446.3,474 446.8,473.9 447.3,473.7 447.8,473.5 448.3,473.3 448.8,473.2 449.3,473.1 449.8,473 450.3,472.9 450.8,472.8 451.3,472.7 451.8,472.6 452.3,472.5 452.8,472.4 453.3,472.3 453.8,472.2 454.3,472.1 454.8,472 455.3,471.8 455.8,471.7 456.3,471.5 456.8,471.4 457.3,471.2 457.8,471 458.3,470.8 458.8,470.6 459.3,470.3 459.8,470.1 460.3,469.8 460.8,469.5 461.3,469.1 461.8,468.8 462.3,468.4 462.8,468.1 463.3,467.8 463.8,467.4 464.3,467.1 464.8,466.6 465.3,466.2 465.8,465.8 466.3,465.2 466.8,464.6 467.3,464 467.8,463.4 468.3,462.8 468.8,462.3 469.3,461.7 469.8,461.3 470.3,460.9 470.8,460.6 471.3,460.2 471.8,459.9 472.3,459.4 472.8,459 473.3,458.5 473.8,458 474.3,457.4 474.8,456.7 475.3,455.8 475.8,454.8 476.3,453.6 476.8,452.4 477.3,451.3 477.8,450.2 478.3,449.2 478.8,448.3 479.3,447.7 479.8,447.1 480.3,446.5 480.8,446 481.3,445.2 481.8,444.3 482.3,443.4 482.8,442.5 483.3,441.6 483.8,441 484.3,440.3 484.8,439.7 485.3,438.9 485.8,437.7 486.3,436.7 486.8,435.6 487.3,434.4 487.8,433.3 488.3,432.4 488.8,431.7 489.3,430.9 489.8,429.6 490.3,428.2 490.8,427 491.3,425.7 491.8,424.4 492.3,423.1 492.8,422.1 493.3,421.3 493.8,420.4 494.3,419.3 494.8,417.7 495.3,416.8 495.8,415.7 496.3,414.1 496.8,412.4 497.3,410.8 497.8,409.3 498.3,407.7 498.8,406.1 499.3,404.4 499.8,403.6 500.3,402.9 500.8,402.2 501.3,401.5 501.8,399.5 502.3,397.7 502.8,395.8 503.3,394 503.8,392.1 504.3,391 504.8,390.4 505.3,389.8 505.8,388.4 506.3,386.2 506.8,384.8 507.3,383.4 507.8,382 508.3,380.6 508.8,378.9 509.3,376.6 509.8,374.2 510.3,371.7 510.8,369.1 511.3,369.3 511.8,369.9 512.3,366.9 512.8,362.6 513.3,359 513.8,357.8 514.3,356.7 514.8,355.6 515.3,354.5 515.8,352.9 516.3,351 516.8,349.1 517.3,347.2 517.8,345.4 518.3,342.7 518.8,340 519.3,337.4 519.8,334.9 520.3,334.2 520.8,335.8 521.3,337.6 521.8,339.5 522.3,340.6 522.8,339.1 523.3,338 523.8,336.9 524.3,335.8 524.8,335.5 525.3,337 525.8,337.1 526.3,334.7 526.8,332.2 527.3,333.2 527.8,335.4 528.3,331.3 528.8,327.2 529.3,323.2 529.8,323.1 530.3,322.9 530.8,322.6 531.3,322.3 531.8,321.3 532.3,319.6 532.8,318 533.3,316.9 533.8,316 534.3,315.3 534.8,314.7 535.3,314.1 535.8,313.7 536.3,312.8 536.8,310.9 537.3,309 537.8,307 538.3,304.9 538.8,306.6 539.3,310.3 539.8,293.1 540.3,292.2 540.8,291.3 541.3,290.4 541.8,291 542.3,291.8 542.8,292.7 543.3,302.3 543.8,302.2 544.3,302.1 544.8,299.9 545.3,298.8 545.8,297.8 546.3,298.8 546.8,299.2 547.3,294.3 547.8,291.8 548.3,296.2 548.8,288.2 549.3,287.9 549.8,287.5 550.3,287.2 550.8,286.9 551.3,286.5 551.8,286.2 552.3,285.9 552.8,285.5 553.3,285.3 553.8,285.6 554.3,286 554.8,286.3 555.3,286.6 555.8,287 556.3,287.3 556.8,287.6 557.3,288 557.8,305.5 558.3,270.3 558.8,269.4 559.3,268.6 559.8,268 560.3,268.9 560.8,269.8 561.3,270.7 561.8,306.8 562.3,307.4 562.8,304.9 563.3,302.4 563.8,302.2 564.3,303.2 564.8,306.2 565.3,307.2 565.8,304.1 566.3,303.1 566.8,304.5 567.3,305.9 567.8,307.2 568.3,307 568.8,307.7 569.3,306.4 569.8,288.9 570.3,288.6 570.8,288.3 571.3,287.9 571.8,287.6 572.3,287.3 572.8,286.9 573.3,286.6 573.8,286.3 574.3,286.6 574.8,286.9 575.3,287.2 575.8,287.6 576.3,287.9 576.8,288.2 577.3,288.6 577.8,288.9 578.3,289.2 578.8,305.9 579.3,307.6 579.8,306.4 580.3,307.7 580.8,306.6 581.3,305 581.8,303.5 582.3,302.1 582.8,301 583.3,300.2 583.8,299.5 584.3,298.9 584.8,298.7 585.3,298.5 585.8,298.4 586.3,298.4 586.8,298.9 587.3,306.4 587.8,313.7 588.3,313 588.8,307.6 589.3,307.4 589.8,312.9 590.3,318.5 590.8,319.4 591.3,316.3 591.8,318.1 592.3,320.8 592.8,323.4 593.3,325.6 593.8,327.5 594.3,329.5 594.8,331.4 595.3,333.2 595.8,334.1 596.3,333.6 596.8,332.8 597.3,332 597.8,331.2 598.3,330.7 598.8,334.6 599.3,338.3 599.8,335.3 600.3,332.4 600.8,332.8 601.3,337.1 601.8,340.1 602.3,337 602.8,334 603.3,336.7 603.8,340.3 604.3,343.9 604.8,344.1 605.3,343.2 605.8,343.5 606.3,344 606.8,344.6 607.3,345.2 607.8,349.1 608.3,354.4 608.8,355.3 609.3,353.6 609.8,352.4 610.3,355.7 610.8,359.1 611.3,362.3 611.8,365.5 612.3,367.5 612.8,368.3 613.3,369.1 613.8,369.9 614.3,370.7 614.8,373.5 615.3,376.5 615.8,379.4 616.3,382.2 616.8,382.5 617.3,382.9 617.8,383.4 618.3,383.9 618.8,384.5 619.3,385.5 619.8,386.7 620.3,387.9 620.8,389.1 621.3,390.5 621.8,394.5 622.3,398.4 622.8,399.3 623.3,398.4 623.8,399.1 624.3,401.2 624.8,403.3 625.3,405.4 625.8,407.4 626.3,409.3 626.8,411.2 627.3,412.1 627.8,412.8 628.3,413.6 628.8,414.5 629.3,415.4 629.8,416.3 630.3,417.2 630.8,418.7 631.3,420.4 631.8,422 632.3,423.6 632.8,425.2 633.3,426.7 633.8,427.9 634.3,428.7 634.8,429.5 635.3,430.6 635.8,431.9 636.3,433.3 636.8,434.5 637.3,435.2 637.8,436.3 638.3,437.3 638.8,438.3 639.3,439.3 639.8,440.2 640.3,441 640.8,441.7 641.3,442.5 641.8,443.2 642.3,443.9 642.8,444.5 643.3,445.2 643.8,445.9 644.3,446.6 644.8,447.6 645.3,448.5 645.8,449.5 646.3,450.2 646.8,451.1 647.3,452.2 647.8,453.3 648.3,454.4 648.8,455.5 649.3,456.4 649.8,457.2 650.3,457.8 650.8,458.4 651.3,458.9 651.8,459.3 652.3,459.8 652.8,460.2 653.3,460.6 653.8,461 654.3,461.3 654.8,461.7 655.3,462.1 655.8,462.5 656.3,463 656.8,463.6 657.3,464.2 657.8,464.8 658.3,465.4 658.8,466 659.3,466.4 659.8,466.7 660.3,467.1 660.8,467.5 661.3,467.9 661.8,468.3 662.3,468.7 662.8,469 663.3,469.3 663.8,469.6 664.3,469.9 664.8,470.1 665.3,470.4 665.8,470.7 666.3,470.9 666.8,471.1 667.3,471.2 667.8,471.4 668.3,471.6 668.8,471.7 669.3,471.9 669.8,472 670.3,472.1 670.8,472.2 671.3,472.3 671.8,472.4 672.3,472.5 672.8,472.6 673.3,472.7 673.8,472.8 674.3,472.9 674.8,473 675.3,473.1 675.8,473.3 676.3,473.4 676.8,473.6 677.3,473.7 677.8,473.9 678.3,474.1 678.8,474.2 679.3,474.3 679.8,474.4 680.3,474.5 680.8,474.6 681.3,474.6 681.8,474.7 682.3,474.8 682.8,474.9 683.3,474.9 683.8,475 684.3,475.1 684.8,475.1 685.3,475.2 685.8,475.2 686.3,475.2 686.8,475.2 687.3,475.3 687.8,475.3 688.3,475.3 688.8,475.3 689.3,475.3 689.8,475.3 690.3,475.3 690.8,475.3 691.3,475.3 691.8,475.3 692.3,475.3 692.8,475.3 693.3,475.4 693.8,475.4 694.3,475.4 694.8,475.4 695.3,475.4 695.8,475.4 696.3,475.4 696.8,475.4 697.3,475.4 697.8,475.4 698.3,475.4 698.8,475.4 699.3,475.4 699.8,475.4 700.3,475.4 700.8,475.4 701.3,475.4 701.8,475.5 702.3,475.5 702.8,475.5 703.3,475.5 703.8,475.5 704.3,475.5 704.8,475.5 705.3,475.5 705.8,475.5 706.3,475.5 706.8,475.5 707.3,475.5 707.8,475.5 707.8,477 707.3,477 706.8,477 706.3,477 705.8,477 705.3,477 704.8,477 704.3,477 703.8,477 703.3,477 702.8,477 702.3,477 701.8,477 701.3,477.1 700.8,477.1 700.3,477.1 699.8,477.1 699.3,477.1 698.8,477.1 698.3,477.1 697.8,477.1 697.3,477.1 696.8,477.1 696.3,477.1 695.8,477.1 695.3,477.1 694.8,477.1 694.3,477.1 693.8,477.1 693.3,477.1 692.8,477.2 692.3,477.2 691.8,477.2 691.3,477.2 690.8,477.2 690.3,477.2 689.8,477.2 689.3,477.2 688.8,477.2 688.3,477.2 687.8,477.2 687.3,477.2 686.8,477.3 686.3,477.3 685.8,477.3 685.3,477.4 684.8,477.5 684.3,477.6 683.8,477.6 683.3,477.7 682.8,477.8 682.3,478 681.8,478.1 681.3,478.2 680.8,478.3 680.3,478.4 679.8,478.5 679.3,478.6 678.8,478.7 678.3,478.8 677.8,478.9 677.3,478.9 676.8,479 676.3,479.1 675.8,479.2 675.3,479.4 674.8,479.5 674.3,479.7 673.8,479.9 673.3,480 672.8,480.2 672.3,480.4 671.8,480.7 671.3,480.9 670.8,481.1 670.3,481.3 669.8,481.5 669.3,481.7 668.8,481.8 668.3,481.9 667.8,482.1 667.3,482.2 666.8,482.3 666.3,482.5 665.8,482.7 665.3,483 664.8,483.2 664.3,483.5 663.8,483.9 663.3,484.2 662.8,484.6 662.3,484.9 661.8,485.3 661.3,485.8 660.8,486.2 660.3,486.7 659.8,487.1 659.3,487.6 658.8,488.2 658.3,488.8 657.8,489.4 657.3,490.1 656.8,490.7 656.3,491.3 655.8,491.8 655.3,492.4 654.8,493 654.3,493.6 653.8,494.1 653.3,494.5 652.8,494.8 652.3,495.1 651.8,495.5 651.3,495.8 650.8,496.3 650.3,496.9 649.8,497.6 649.3,498.3 648.8,498.9 648.3,499.5 647.8,500.1 647.3,500.7 646.8,501.5 646.3,502.4 645.8,503.4 645.3,504.5 644.8,505.5 644.3,506.4 643.8,507.1 643.3,507.9 642.8,508.6 642.3,509.4 641.8,510 641.3,510.6 640.8,511.8 640.3,513 639.8,514.2 639.3,515.3 638.8,516.4 638.3,517.5 637.8,518.6 637.3,519.7 636.8,520.7 636.3,521.7 635.8,522.8 635.3,523.8 634.8,524.6 634.3,525.5 633.8,526.3 633.3,527.2 632.8,528.3 632.3,529.5 631.8,530.7 631.3,531.9 630.8,533.1 630.3,533.8 629.8,534.5 629.3,535.1 628.8,536.1 628.3,537.3 627.8,539.5 627.3,541.8 626.8,544.2 626.3,546.7 625.8,547.1 625.3,547.2 624.8,547.3 624.3,547.4 623.8,548.2 623.3,549.4 622.8,550.7 622.3,552.1 621.8,553.6 621.3,555.1 620.8,556.7 620.3,558.3 619.8,560 619.3,561.5 618.8,562.3 618.3,563.5 617.8,566 617.3,568.5 616.8,570 616.3,570.8 615.8,571.4 615.3,573.9 614.8,576.7 614.3,577.2 613.8,578.4 613.3,581.5 612.8,584.6 612.3,587.5 611.8,589.9 611.3,592.3 610.8,594.7 610.3,597.2 609.8,598 609.3,598.3 608.8,598.4 608.3,598.5 607.8,598.5 607.3,598.3 606.8,601.5 606.3,604.8 605.8,608.2 605.3,610.3 604.8,611.1 604.3,611.9 603.8,612.7 603.3,613.5 602.8,613.3 602.3,613.5 601.8,616.9 601.3,620.3 600.8,622.3 600.3,621.3 599.8,621.6 599.3,625.9 598.8,630.3 598.3,630.7 597.8,629.7 597.3,628.5 596.8,632.4 596.3,635.8 595.8,635.8 595.3,635.6 594.8,635.4 594.3,636 593.8,637.2 593.3,637.9 592.8,639.7 592.3,641.6 591.8,643.5 591.3,644.2 590.8,644.9 590.3,645.6 589.8,646.3 589.3,647.7 588.8,650.4 588.3,653.1 587.8,655.9 587.3,658.7 586.8,659.2 586.3,658.8 585.8,658.4 585.3,657.9 584.8,657.5 584.3,658.7 583.8,659.8 583.3,660.8 582.8,661.7 582.3,662.9 581.8,664.5 581.3,666.1 580.8,667.6 580.3,669.2 579.8,668.1 579.3,666.9 578.8,665.6 578.3,664.4 577.8,662.3 577.3,662.9 576.8,667.1 576.3,671.2 575.8,675.3 575.3,673.1 574.8,668.8 574.3,664.4 573.8,663.5 573.3,667.4 572.8,667.3 572.3,667.3 571.8,667.2 571.3,667.1 570.8,664.6 570.3,664.2 569.8,668.8 569.3,673.4 568.8,678 568.3,671.2 567.8,663.7 567.3,668.6 566.8,676.2 566.3,678.6 565.8,671 565.3,663.4 564.8,669.3 564.3,676.9 563.8,676.2 563.3,672.7 562.8,669.1 562.3,665.6 561.8,662.9 561.3,665.6 560.8,668.2 560.3,670.9 559.8,673.6 559.3,673.3 558.8,670.5 558.3,667.7 557.8,664.9 557.3,662.7 556.8,665.6 556.3,668.4 555.8,671.2 555.3,674.1 554.8,674.2 554.3,669.3 553.8,664.3 553.3,664.7 552.8,669.6 552.3,671.1 551.8,671.6 551.3,672 550.8,672.4 550.3,672.6 549.8,671.4 549.3,670.2 548.8,668.9 548.3,667.7 547.8,665.9 547.3,663.8 546.8,661.6 546.3,661.3 545.8,663 545.3,661 544.8,660.2 544.3,661.8 543.8,663.4 543.3,663.9 542.8,662.8 542.3,661.6 541.8,660.4 541.3,659.1 540.8,659.3 540.3,659.9 539.8,660.3 539.3,660.6 538.8,660.7 538.3,659.8 537.8,658.8 537.3,657.7 536.8,656.6 536.3,653.7 535.8,649.2 535.3,647.5 534.8,649.7 534.3,651.8 533.8,646.8 533.3,642.4 532.8,645.6 532.3,648.7 531.8,649.1 531.3,644.5 530.8,640 530.3,636.5 529.8,638.8 529.3,637.8 528.8,635.6 528.3,633.4 527.8,631.2 527.3,629.2 526.8,628.4 526.3,627.6 525.8,626.7 525.3,625.7 524.8,623.6 524.3,620.6 523.8,619.1 523.3,618.8 522.8,618.6 522.3,616.6 521.8,614.6 521.3,612.6 520.8,610.7 520.3,609 519.8,607.8 519.3,606.7 518.8,605.5 518.3,604.3 517.8,602.4 517.3,600.2 516.8,598 516.3,595.9 515.8,594.8 515.3,593.6 514.8,592.3 514.3,591 513.8,589.6 513.3,588.2 512.8,586.6 512.3,584.9 511.8,583.3 511.3,581.6 510.8,580.4 510.3,579.2 509.8,577.9 509.3,576.6 508.8,575.1 508.3,573.2 507.8,571.3 507.3,569.4 506.8,567.6 506.3,565.4 505.8,563 505.3,560.9 504.8,560.2 504.3,559.3 503.8,557.5 503.3,555.7 502.8,554 502.3,552.7 501.8,551.2 501.3,550.3 500.8,549.4 500.3,548.6 499.8,547.7 499.3,546.2 498.8,544.6 498.3,543.1 497.8,541.6 497.3,540.4 496.8,539.8 496.3,539.2 495.8,538.5 495.3,537.9 494.8,536.3 494.3,534.5 493.8,532.7 493.3,531 492.8,530 492.3,528.9 491.8,527.9 491.3,526.8 490.8,525.8 490.3,524.8 489.8,523.8 489.3,522.9 488.8,522 488.3,521 487.8,520 487.3,519 486.8,518 486.3,517.1 485.8,516.1 485.3,515.1 484.8,514.1 484.3,513.2 483.8,512.2 483.3,511.3 482.8,510.4 482.3,509.5 481.8,508.6 481.3,507.7 480.8,506.6 480.3,505.8 479.8,505.2 479.3,504.5 478.8,503.6 478.3,502.6 477.8,502.1 477.3,501.7 476.8,501.2 476.3,500.4 475.8,499.6 475.3,498.9 474.8,498.3 474.3,497.6 473.8,497 473.3,496.4 472.8,495.9 472.3,495.3 471.8,494.9 471.3,494.6 470.8,494.2 470.3,493.8 469.8,493.4 469.3,492.8 468.8,492.1 468.3,491.5 467.8,491 467.3,490.4 466.8,489.7 466.3,489.1 465.8,488.4 465.3,487.9 464.8,487.3 464.3,486.8 463.8,486.4 463.3,486 462.8,485.6 462.3,485.2 461.8,484.8 461.3,484.4 460.8,484 460.3,483.7 459.8,483.4 459.3,483.1 458.8,482.8 458.3,482.6 457.8,482.4 457.3,482.2 456.8,482.1 456.3,482 455.8,481.8 455.3,481.7 454.8,481.5 454.3,481.4 453.8,481.2 453.3,481 452.8,480.8 452.3,480.5 451.8,480.3 451.3,480.1 450.8,479.9 450.3,479.7 449.8,479.6 449.3,479.4 448.8,479.3 448.3,479.2 447.8,479.1 447.3,479 446.8,478.9 446.3,478.8 445.8,478.7 445.3,478.6 444.8,478.5 444.3,478.4 443.8,478.3 443.3,478.2 442.8,478.1 442.3,478 441.8,477.9 441.3,477.8 440.8,477.7 440.3,477.6 439.8,477.5 439.3,477.4 438.8,477.4 438.3,477.3 437.8,477.3 437.3,477.3 436.8,477.2 436.3,477.2 435.8,477.2 435.3,477.2 434.8,477.2 434.3,477.2 433.8,477.2 433.3,477.2 432.8,477.2 432.3,477.2 431.8,477.2 431.3,477.1 430.8,477.1 430.3,477.1 429.8,477.1 429.3,477.1 428.8,477.1 428.3,477.1 427.8,477.1 427.3,477.1 426.8,477.1 426.3,477.1 425.8,477.1 425.3,477.1 424.8,477.1 424.3,477.1 423.8,477.1 423.3,477.1 422.8,477 422.3,477 421.8,477 421.3,477 420.8,477 420.3,477 419.8,477 419.3,477 418.8,477 418.3,477 417.8,477 417.3,477 416.8,477 416.3,477"/>
<polygon fill="#ff0000" points="708.1,276.1 708.6,276.1 709.1,276.1 709.6,276.1 710.1,276.1 710.6,276.1 711.1,276.1 711.6,276.1 712.1,276.1 712.6,276.1 713.1,276.1 713.6,276.1 714.1,276.1 714.6,276.1 715.1,276.1 715.6,276 716.1,276 716.6,276 717.1,276 717.6,276 718.1,276 718.6,276 719.1,276 719.6,276 720.1,276 720.6,276 721.1,275.9 721.6,275.9 722.1,275.9 722.6,275.9 723.1,275.9 723.6,275.9 724.1,275.9 724.6,275.9 725.1,275.8 725.6,275.8 726.1,275.8 726.6,275.8 727.1,275.8 727.6,275.8 728.1,275.7 728.6,275.7 729.1,275.7 729.6,275.7 730.1,275.7 730.6,275.6 731.1,275.6 731.6,275.5 732.1,275.4 732.6,275.3 733.1,275.2 733.6,275.1 734.1,274.9 734.6,274.8 735.1,274.7 735.6,274.5 736.1,274.4 736.6,274.2 737.1,274.1 737.6,274 738.1,273.8 738.6,273.7 739.1,273.5 739.6,273.4 740.1,273.3 740.6,273.1 741.1,273 741.6,272.8 742.1,272.7 742.6,272.5 743.1,272.3 743.6,272.2 744.1,272 744.6,271.8 745.1,271.7 745.6,271.5 746.1,271.3 746.6,271.1 747.1,270.9 747.6,270.7 748.1,270.5 748.6,270.2 749.1,270 749.6,269.7 750.1,269.5 750.6,269.2 751.1,268.9 751.6,268.5 752.1,268.2 752.6,267.8 753.1,267.5 753.6,267.1 754.1,266.7 754.6,266.3 755.1,265.8 755.6,265.4 756.1,264.9 756.6,264.4 757.1,264 757.6,263.5 758.1,263 758.6,262.5 759.1,262 759.6,261.3 760.1,260.5 760.6,259.7 761.1,258.9 761.6,258.2 762.1,257.5 762.6,256.8 763.1,256.1 763.6,255.2 764.1,254.3 764.6,253.3 765.1,252.3 765.6,251.3 766.1,250.6 766.6,249.9 767.1,249.2 767.6,248 768.1,246.9 768.6,246.1 769.1,245.2 769.6,244.4 770.1,243.6 770.6,242.4 771.1,241 771.6,239.4 772.1,237.9 772.6,236.4 773.1,236.3 773.6,236.1 774.1,236 774.6,234.7 775.1,233.1 775.6,232 776.1,230.8 776.6,229.5 777.1,228.3 777.6,227.5 778.1,226.8 778.6,226.1 779.1,225.3 779.6,224.7 780.1,223.7 780.6,221.7 781.1,219.7 781.6,217.6 782.1,215.9 782.6,214.5 783.1,213 783.6,211.4 784.1,210 784.6,210 785.1,210.1 785.6,209.5 786.1,206.3 786.6,204.4 787.1,203.8 787.6,203.2 788.1,201.9 788.6,199.2 789.1,197.8 789.6,196.5 790.1,195.2 790.6,193.9 791.1,192.4 791.6,190.3 792.1,188.1 792.6,186 793.1,183.7 793.6,181 794.1,178 794.6,174.9 795.1,171.7 795.6,168.9 796.1,169.6 796.6,170.5 797.1,170.8 797.6,165.8 798.1,163.3 798.6,163.3 799.1,163.2 799.6,159.1 800.1,154.8 800.6,153.8 801.1,153.2 801.6,152.6 802.1,150.5 802.6,147.6 803.1,145.8 803.6,144.1 804.1,142.4 804.6,140.7 805.1,136.7 805.6,131.8 806.1,126.8 806.6,121.6 807.1,116.8 807.6,115.5 808.1,114.3 808.6,113.1 809.1,112 809.6,112.5 810.1,114.6 810.6,115.1 811.1,108.4 811.6,101.6 812.1,100.7 812.6,100.3 813.1,100.1 813.6,99.9 814.1,100.1 814.6,98.7 815.1,93.9 815.6,89.1 816.1,84.2 816.6,85.5 817.1,89.3 817.6,85.1 818.1,77.6 818.6,70.9 819.1,71.5 819.6,72.1 820.1,72.7 820.6,73.5 821.1,73.8 821.6,73.8 822.1,73.9 822.6,71.9 823.1,68.6 823.6,67.9 824.1,61.1 824.6,54.1 825.1,47.1 825.6,42 826.1,41.3 826.6,40.5 827.1,39.6 827.6,38.6 828.1,35.7 828.6,32.1 829.1,28.6 829.6,25.3 830.1,23.2 830.6,28.5 831.1,34.4 831.6,40.4 832.1,44 832.6,41.8 833.1,44.2 833.6,41.1 834.1,37.8 834.6,34.5 835.1,38.6 835.6,41.3 836.1,35.9 836.6,30.6 837.1,27.7 837.6,30.2 838.1,32.8 838.6,35.3 839.1,37.9 839.6,37.3 840.1,35.6 840.6,33.8 841.1,32.1 841.6,30.8 842.1,33 842.6,35.1 843.1,17.7 843.6,17.4 844.1,17.1 844.6,16.8 845.1,16.6 845.6,16.3 846.1,16 846.6,15.7 847.1,15.4 847.6,15.1 848.1,15 848.6,15.2 849.1,15.5 849.6,15.8 850.1,16.1 850.6,16.4 851.1,16.7 851.6,17 852.1,17.2 852.6,17.5 853.1,17.8 853.6,19.3 854.1,20 854.6,29.9 855.1,29.9 855.6,29.9 856.1,29.9 856.6,29.9 857.1,29.9 857.6,29.9 858.1,29.9 858.6,29.9 859.1,29.9 859.6,34.7 860.1,35.4 860.6,34 861.1,32.5 861.6,31.1 862.1,29.7 862.6,15.7 863.1,15.4 863.6,15 864.1,14.7 864.6,14.3 865.1,11.8 865.6,11.8 866.1,11.8 866.6,11.8 867.1,11.8 867.6,11.8 868.1,11.8 868.6,11.8 869.1,14.7 869.6,15 870.1,15.4 870.6,15.7 871.1,38.9 871.6,36.9 872.1,42.3 872.6,41.5 873.1,38.1 873.6,34.9 874.1,31.1 874.6,27.2 875.1,23.5 875.6,19.9 876.1,18.4 876.6,30.2 877.1,41.7 877.6,52.9 878.1,56.2 878.6,54.8 879.1,59.7 879.6,63.2 880.1,61 880.6,58.9 881.1,60.6 881.6,62.6 882.1,64.5 882.6,66.5 883.1,68.1 883.6,69.2 884.1,70.2 884.6,71.3 885.1,72.4 885.6,74.1 886.1,76.1 886.6,78.1 887.1,80 887.6,82 888.1,84.3 888.6,83.9 889.1,83.5 889.6,83.1 890.1,86.2 890.6,86.8 891.1,82.5 891.6,78.2 892.1,74 892.6,78 893.1,82.5 893.6,87.1 894.1,91.6 894.6,94.8 895.1,95.3 895.6,95.8 896.1,96.5 896.6,97.3 897.1,101.1 897.6,104 898.1,102.1 898.6,100.3 899.1,99.7 899.6,105.9 900.1,111.9 900.6,111.9 901.1,109.6 901.6,112.3 902.1,119.1 902.6,118.7 903.1,116 903.6,113.5 904.1,117 904.6,121 905.1,124.8 905.6,128.7 906.1,131.4 906.6,132 907.1,132.7 907.6,133.4 908.1,134.3 908.6,138.5 909.1,144 909.6,149.4 910.1,151.6 910.6,151.7 911.1,156.1 911.6,160.4 912.1,161.2 912.6,162.1 913.1,164.2 913.6,167.2 914.1,170.2 914.6,173.1 915.1,175.9 915.6,179.7 916.1,180.2 916.6,180.7 917.1,181.2 917.6,182.4 918.1,185.2 918.6,187.9 919.1,190.6 919.6,193.1 920.1,194.8 920.6,196.2 921.1,197.6 921.6,199 922.1,200.3 922.6,201.5 923.1,202.6 923.6,203.7 924.1,204.8 924.6,206.1 925.1,207.6 925.6,209 926.1,210.5 926.6,211.8 927.1,212.9 927.6,213.8 928.1,214.8 928.6,215.8 929.1,217.1 929.6,218.7 930.1,220.4 930.6,222 931.1,223.5 931.6,225 932.1,226.5 932.6,227.9 933.1,228.8 933.6,229.8 934.1,231.3 934.6,232.3 935.1,233.1 935.6,234 936.1,234.9 936.6,235.8 937.1,236.8 937.6,237.7 938.1,238.7 938.6,240.2 939.1,241.7 939.6,243.1 940.1,243.6 940.6,244.3 941.1,245.5 941.6,246.7 942.1,247.7 942.6,248.4 943.1,249.3 943.6,250.1 944.1,251 944.6,251.8 945.1,252.5 945.6,253.2 946.1,253.9 946.6,254.6 947.1,255.3 947.6,255.9 948.1,256.5 948.6,257.1 949.1,257.7 949.6,258.3 950.1,259 950.6,259.7 951.1,260.2 951.6,260.7 952.1,261.2 952.6,261.8 953.1,262.4 953.6,262.9 954.1,263.3 954.6,263.8 955.1,264.4 955.6,264.9 956.1,265.4 956.6,265.9 957.1,266.3 957.6,266.8 958.1,267.2 958.6,267.6 959.1,268.1 959.6,268.5 960.1,268.9 960.6,269.3 961.1,269.7 961.6,270.1 962.1,270.5 962.6,270.8 963.1,271.1 963.6,271.4 964.1,271.7 964.6,271.9 965.1,272.1 965.6,272.3 966.1,272.5 966.6,272.8 967.1,273 967.6,273.2 968.1,273.4 968.6,273.6 969.1,273.7 969.6,273.9 970.1,274 970.6,274.2 971.1,274.3 971.6,274.5 972.1,274.6 972.6,274.7 973.1,274.8 973.6,274.9 974.1,275 974.6,275.1 975.1,275.2 975.6,275.2 976.1,275.3 976.6,275.4 977.1,275.5 977.6,275.5 978.1,275.6 978.6,275.7 979.1,275.7 979.6,275.8 980.1,275.8 980.6,275.8 981.1,275.9 981.6,275.9 982.1,275.9 982.6,275.9 983.1,275.9 983.6,275.9 984.1,275.9 984.6,276 985.1,276 985.6,276 986.1,276 986.6,276 987.1,276 987.6,276 988.1,276 988.6,276 989.1,276 989.6,276 990.1,276 990.6,276.1 991.1,276.1 991.6,276.1 992.1,276.1 992.6,276.1 993.1,276.1 993.6,276.1 994.1,276.1 994.6,276.1 995.1,276.1 995.6,276.1 996.1,276.1 996.6,276.1 997.1,276.1 997.6,276.1 998.1,276.1 998.6,276.1 999.1,276.1 999.6,276.1 1000.1,276.1 1000.6,276.1 1001.1,276.1 1001.6,276.1 1001.6,277.7 1001.1,277.7 1000.6,277.7 1000.1,277.7 999.6,277.7 999.1,277.7 998.6,277.7 998.1,277.7 997.6,277.7 997.1,277.7 996.6,277.7 996.1,277.7 995.6,277.7 995.1,277.7 994.6,277.7 994.1,277.7 993.6,277.7 993.1,277.7 992.6,277.7 992.1,277.7 991.6,277.7 991.1,277.7 990.6,277.7 990.1,277.8 989.6,277.8 989.1,277.8 988.6,277.8 988.1,277.8 987.6,277.8 987.1,277.8 986.6,277.8 986.1,277.8 985.6,277.8 985.1,277.8 984.6,277.8 984.1,277.8 983.6,277.9 983.1,277.9 982.6,277.9 982.1,277.9 981.6,277.9 981.1,277.9 980.6,277.9 980.1,278 979.6,278 979.1,278 978.6,278.1 978.1,278.2 977.6,278.2 977.1,278.3 976.6,278.3 976.1,278.4 975.6,278.5 975.1,278.5 974.6,278.6 974.1,278.7 973.6,278.7 973.1,278.8 972.6,278.9 972.1,279 971.6,279 971.1,279.1 970.6,279.2 970.1,279.3 969.6,279.4 969.1,279.5 968.6,279.6 968.1,279.7 967.6,279.8 967.1,279.9 966.6,280 966.1,280.1 965.6,280.2 965.1,280.3 964.6,280.4 964.1,280.5 963.6,280.6 963.1,280.7 962.6,280.9 962.1,281 961.6,281.2 961.1,281.3 960.6,281.4 960.1,281.5 959.6,281.6 959.1,281.8 958.6,281.9 958.1,282.1 957.6,282.3 957.1,282.4 956.6,282.6 956.1,282.8 955.6,282.9 955.1,283.1 954.6,283.3 954.1,283.5 953.6,283.7 953.1,283.9 952.6,284.1 952.1,284.3 951.6,284.5 951.1,284.8 950.6,285 950.1,285.3 949.6,285.6 949.1,285.8 948.6,286.1 948.1,286.3 947.6,286.6 947.1,286.9 946.6,287.2 946.1,287.5 945.6,287.9 945.1,288.2 944.6,288.6 944.1,289 943.6,289.4 943.1,289.8 942.6,290.3 942.1,290.8 941.6,291.3 941.1,291.9 940.6,292.5 940.1,293 939.6,293.7 939.1,294.5 938.6,295.2 938.1,295.9 937.6,296.5 937.1,297.1 936.6,297.7 936.1,298.3 935.6,298.8 935.1,299.4 934.6,300 934.1,300.5 933.6,301.1 933.1,301.6 932.6,302.1 932.1,302.7 931.6,303.2 931.1,303.5 930.6,303.7 930.1,304.5 929.6,305.5 929.1,306.3 928.6,306.3 928.1,306.6 927.6,307.8 927.1,308.9 926.6,309.5 926.1,309.6 925.6,309.8 925.1,310.2 924.6,311.2 924.1,311.6 923.6,312 923.1,312.6 922.6,313.4 922.1,314.1 921.6,314.6 921.1,315.1 920.6,315.6 920.1,316.3 919.6,317.1 919.1,318.2 918.6,319.4 918.1,320.5 917.6,321.5 917.1,322 916.6,322.4 916.1,322.9 915.6,323.3 915.1,323.9 914.6,324.4 914.1,325 913.6,325.6 913.1,326.2 912.6,327.4 912.1,328.6 911.6,329.8 911.1,331 910.6,332.2 910.1,333.2 909.6,334.2 909.1,335.2 908.6,336.3 908.1,337.4 907.6,338.5 907.1,339.7 906.6,340.9 906.1,341.8 905.6,341.7 905.1,341.6 904.6,341.4 904.1,341.2 903.6,343.3 903.1,346 902.6,348.8 902.1,351.7 901.6,354.4 901.1,354.7 900.6,354.9 900.1,355.1 899.6,355.2 899.1,355.6 898.6,356.3 898.1,357 897.6,357.7 897.1,358.3 896.6,358.9 896.1,359.4 895.6,359.9 895.1,360.3 894.6,361.3 894.1,363.5 893.6,365.7 893.1,368 892.6,370.3 892.1,371 891.6,370.8 891.1,370.6 890.6,370.4 890.1,370 889.6,372.5 889.1,376.7 888.6,381 888.1,385.4 887.6,386.8 887.1,384.7 886.6,382.5 886.1,380.2 885.6,377.9 885.1,378.6 884.6,382 884.1,385.3 883.6,388.8 883.1,391.2 882.6,390.9 882.1,390.7 881.6,390.4 881.1,390 880.6,389.6 880.1,389.2 879.6,388.8 879.1,388.3 878.6,387.6 878.1,386 877.6,384.9 877.1,387.3 876.6,389.7 876.1,392.1 875.6,394.4 875.1,396.7 874.6,399.1 874.1,401.4 873.6,397.7 873.1,393.1 872.6,388.5 872.1,391.4 871.6,394.4 871.1,391.9 870.6,389.4 870.1,390 869.6,392.9 869.1,392.6 868.6,390.7 868.1,388.9 867.6,391 867.1,392.9 866.6,393.2 866.1,393.5 865.6,393.8 865.1,394.1 864.6,395.4 864.1,397.8 863.6,400.2 863.1,402.6 862.6,405 862.1,404 861.6,402.5 861.1,401.1 860.6,399.6 860.1,399 859.6,400.8 859.1,402.6 858.6,404.4 858.1,406.2 857.6,402.2 857.1,395.5 856.6,391 856.1,397.8 855.6,403.6 855.1,399.6 854.6,395.5 854.1,391.4 853.6,392.5 853.1,395.2 852.6,396.6 852.1,397.9 851.6,399.2 851.1,400.5 850.6,398.3 850.1,395.6 849.6,392.9 849.1,390.2 848.6,391.7 848.1,394.2 847.6,396.7 847.1,399.2 846.6,401.8 846.1,401.8 845.6,400.5 845.1,399.3 844.6,398.1 844.1,397.2 843.6,398.7 843.1,400.3 842.6,401.8 842.1,403.3 841.6,402.1 841.1,397.9 840.6,393.7 840.1,389.6 839.6,390.3 839.1,394.9 838.6,399.5 838.1,404.1 837.6,408.6 837.1,409.6 836.6,401.6 836.1,393.6 835.6,386.1 835.1,393.3 834.6,393.5 834.1,390.4 833.6,387.2 833.1,384.7 832.6,386.7 832.1,384.2 831.6,384.7 831.1,386.3 830.6,387.9 830.1,387.9 829.6,386.2 829.1,384.6 828.6,382.9 828.1,381.2 827.6,379.3 827.1,380.3 826.6,381.3 826.1,382.2 825.6,382.2 825.1,379.8 824.6,377.5 824.1,375.2 823.6,375.3 823.1,375 822.6,374.2 822.1,373.3 821.6,372.3 821.1,371.4 820.6,370.4 820.1,369.4 819.6,368.4 819.1,367.5 818.6,366.9 818.1,366.9 817.6,366.7 817.1,366.6 816.6,366.4 816.1,365 815.6,363.5 815.1,361.9 814.6,360.4 814.1,358.6 813.6,356.3 813.1,354.1 812.6,353.9 812.1,354 811.6,353.9 811.1,353.7 810.6,353.5 810.1,353.3 809.6,352.8 809.1,348.9 808.6,345.2 808.1,345.4 807.6,346.8 807.1,346.9 806.6,345.7 806.1,344.5 805.6,343.3 805.1,342.2 804.6,340.7 804.1,339.3 803.6,338 803.1,336.7 802.6,335.3 802.1,333.7 801.6,332.2 801.1,330.7 800.6,330 800.1,330.1 799.6,330.4 799.1,330.6 798.6,330.8 798.1,330.8 797.6,328.4 797.1,326.1 796.6,323.8 796.1,324.6 795.6,324.4 795.1,323.3 794.6,322.2 794.1,321.1 793.6,320 793.1,319.1 792.6,318.7 792.1,318.3 791.6,317.9 791.1,317.5 790.6,317.1 790.1,316.8 789.6,316.4 789.1,316.1 788.6,315.4 788.1,314.5 787.6,313.7 787.1,312.9 786.6,312.1 786.1,311.7 785.6,311.3 785.1,310.9 784.6,310.4 784.1,309.7 783.6,308.7 783.1,307.8 782.6,306.8 782.1,305.9 781.6,305.5 781.1,305.1 780.6,304.7 780.1,304.3 779.6,303.9 779.1,303.3 778.6,302.8 778.1,302.3 777.6,301.7 777.1,301 776.6,300.2 776.1,299.4 775.6,298.7 775.1,297.9 774.6,297.5 774.1,297 773.6,296.5 773.1,295.9 772.6,295.3 772.1,294.6 771.6,294.1 771.1,293.7 770.6,293.2 770.1,292.4 769.6,291.7 769.1,291 768.6,290.3 768.1,289.8 767.6,289.4 767.1,289.1 766.6,288.7 766.1,288.4 765.6,288 765.1,287.6 764.6,287.3 764.1,286.9 763.6,286.6 763.1,286.3 762.6,286 762.1,285.8 761.6,285.5 761.1,285.3 760.6,285.1 760.1,284.8 759.6,284.6 759.1,284.4 758.6,284.1 758.1,283.9 757.6,283.8 757.1,283.7 756.6,283.5 756.1,283.2 755.6,283 755.1,282.8 754.6,282.7 754.1,282.5 753.6,282.3 753.1,282.1 752.6,282 752.1,281.9 751.6,281.7 751.1,281.6 750.6,281.4 750.1,281.3 749.6,281.2 749.1,281.1 748.6,280.9 748.1,280.8 747.6,280.7 747.1,280.6 746.6,280.4 746.1,280.3 745.6,280.2 745.1,280.1 744.6,280 744.1,279.9 743.6,279.8 743.1,279.7 742.6,279.6 742.1,279.5 741.6,279.4 741.1,279.3 740.6,279.3 740.1,279.2 739.6,279.1 739.1,279 738.6,278.9 738.1,278.8 737.6,278.8 737.1,278.7 736.6,278.6 736.1,278.6 735.6,278.5 735.1,278.4 734.6,278.3 734.1,278.3 733.6,278.2 733.1,278.2 732.6,278.1 732.1,278.1 731.6,278 731.1,278 730.6,277.9 730.1,277.9 729.6,277.9 729.1,277.9 728.6,277.9 728.1,277.9 727.6,277.9 727.1,277.9 726.6,277.8 726.1,277.8 725.6,277.8 725.1,277.8 724.6,277.8 724.1,277.8 723.6,277.8 723.1,277.8 722.6,277.8 722.1,277.8 721.6,277.8 721.1,277.8 720.6,277.8 720.1,277.8 719.6,277.7 719.1,277.7 718.6,277.7 718.1,277.7 717.6,277.7 717.1,277.7 716.6,277.7 716.1,277.7 715.6,277.7 715.1,277.7 714.6,277.7 714.1,277.7 713.6,277.7 713.1,277.7 712.6,277.7 712.1,277.7 711.6,277.7 711.1,277.7 710.6,277.7 710.1,277.7 709.6,277.7 709.1,277.7 708.6,277.7 708.1,277.7"/>
<path stroke="#00ff00" stroke-width="2.1" fill="none" d="M534.9 476.2V659.2M541.4 476.2V677.8M546.1 476.2V686.6M551.9 476.2V693.2M555.8 476.2V702.8M560.2 476.2V704.5M563.3 476.2V692.2M570.2 476.2V681.2M576.3 476.2V683.2M589.1 476.2V666.2M549.2 476.2V679.2M566.7 476.2V679.2M573.2 476.2V676.2M580.2 476.2V672.2"/>
<path stroke="#ff0000" stroke-width="2.1" fill="none" d="M844 276.9V11.8M847.8 276.9V11.8M851.4 276.9V11.8M833.5 276.9V22.9M837.5 276.9V25.9M830.5 276.9V30.9M875.5 276.9V32.9M880 276.9V48.9M866.6 276.9V12.4M818.7 276.9V375.9M827.7 276.9V396.5M834.1 276.9V409.3M839.1 276.9V414.9M844.4 276.9V417.6M848.2 276.9V426.5M853 276.9V427.6M855 276.9V422.9M856.6 276.9V415.4M862.5 276.9V404.3M869 276.9V409.9M881.9 276.9V402.6M895.1 276.9V367.7M899.4 276.9V359.9M824.5 276.9V387.9M831 276.9V400.9M842 276.9V407.9M860 276.9V407.9M865.5 276.9V402.9M873.5 276.9V399.9M877.5 276.9V393.9M887.5 276.9V382.9"/>
<path stroke="#ff00ff" stroke-opacity="0.8" stroke-width="2.1" fill="none" d="M416.9 247.8H1001.4"/>
<path stroke="#000" stroke-width="1.9" fill="none" stroke-dasharray="16 6.4 4.05 6.4" d="M110.3 276.9H1001.4"/>
<path stroke="#000" stroke-width="5" stroke-linecap="round" fill="none" stroke-dasharray="0 8.23" d="M125.2 475.9H417.3M710.8 475.9H1002.4"/>
</g>
<g font-family="'Liberation Sans', sans-serif" fill="#2a2a2a" font-size="27.3">
<text x="97.8" y="24.2" text-anchor="end">60</text>
<text x="97.8" y="113.1" text-anchor="end">40</text>
<text x="97.8" y="201.3" text-anchor="end">20</text>
<text x="97.8" y="290.1" text-anchor="end">0</text>
<text x="97.8" y="378.7" text-anchor="end">-20</text>
<text x="97.8" y="464.9" text-anchor="end">-40</text>
<text x="97.8" y="554.1" text-anchor="end">-60</text>
<text x="97.8" y="642" text-anchor="end">-80</text>
<text x="97.8" y="731" text-anchor="end">-100</text>
<text x="122.8" y="758.2" text-anchor="middle">0</text>
<text x="269" y="758.2" text-anchor="middle">5</text>
<text x="416.7" y="758.2" text-anchor="middle">10</text>
<text x="564" y="758.2" text-anchor="middle">15</text>
<text x="709.8" y="758.2" text-anchor="middle">20</text>
<text x="855.5" y="758.2" text-anchor="middle">25</text>
<text x="1001.6" y="758.2" text-anchor="middle">30</text>
</g>
<g font-family="'Liberation Sans', sans-serif" fill="#2a2a2a" font-size="30">
<text x="555.4" y="798.2" text-anchor="middle">TIME (ms)</text>
<text transform="translate(28.1 364.3) rotate(-90)" text-anchor="middle">AMPLITUDE (A.U.) with offset</text>
</g>
<g font-family="'Liberation Sans', sans-serif" fill="#000">
<text x="185.2" y="166.9" font-size="57" text-anchor="middle">A</text>
<text x="771.5" y="166.9" font-size="57" text-anchor="middle">B</text>
<text x="435.4" y="432.9" font-size="57" text-anchor="middle">C</text>
<text x="597.6" y="241.9" font-size="38.4" text-anchor="middle">DC OFFSET</text>
</g>
</g>
</svg>
</body>
</html>
